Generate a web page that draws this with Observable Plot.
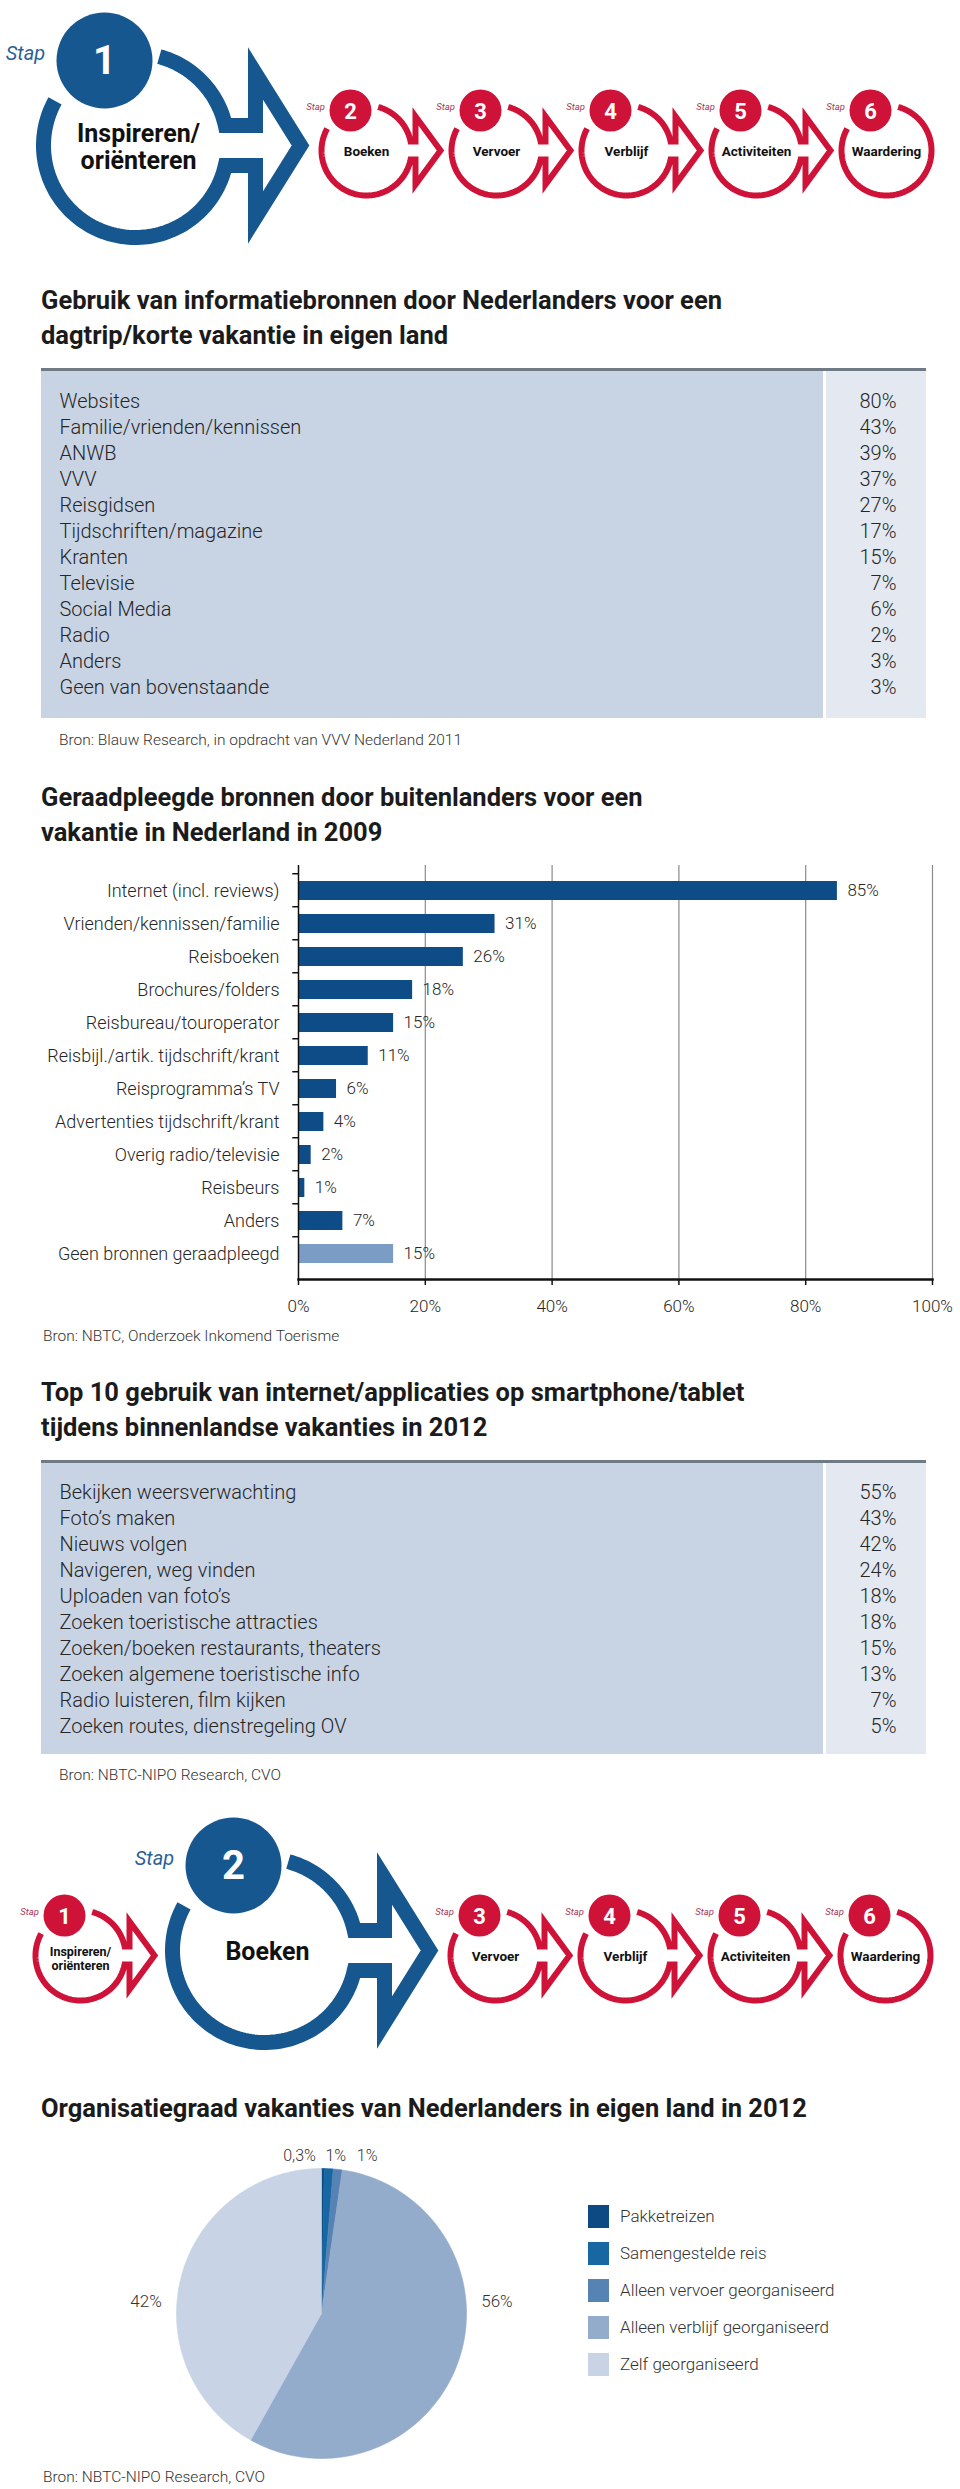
<!DOCTYPE html>
<html><head><meta charset="utf-8">
<script src="https://cdn.jsdelivr.net/npm/d3@7"></script>
<script src="https://cdn.jsdelivr.net/npm/@observablehq/plot@0.6"></script>
<style>
body{margin:0;background:#fff;}
#page{position:relative;width:960px;height:2489px;overflow:hidden;font-family:Roboto,"Noto Sans",sans-serif;color:#222;background:#fff;}
.abs{position:absolute;}
.title{left:41px;font-weight:700;font-size:25.5px;line-height:35px;color:#1b1b1b;letter-spacing:0;white-space:nowrap;}
.src{font-size:15.5px;line-height:18px;color:#333;font-weight:300;white-space:nowrap;}
.tblline{left:41px;width:885px;height:3px;background:#6f7a85;}
.pl{background:#c8d3e3;}
.pr{background:#e3e8f1;}
.legend{left:588px;font-size:17px;font-weight:300;color:#333;}
.legend .it{display:flex;align-items:center;height:37px;}
.legend .sw{width:21px;height:23px;margin-right:11px;}
</style>
</head><body>
<div id="page"></div>
<script>
// ---------- data ----------
const stepNames = ["Inspireren/\noriënteren","Boeken","Vervoer","Verblijf","Activiteiten","Waardering"];
const stepNumbers = ["1","2","3","4","5","6"];

const infoSources = ["Websites","Familie/vrienden/kennissen","ANWB","VVV","Reisgidsen","Tijdschriften/magazine","Kranten","Televisie","Social Media","Radio","Anders","Geen van bovenstaande"];
const infoShares = [80,43,39,37,27,17,15,7,6,2,3,3];

const foreignSources = ["Internet (incl. reviews)","Vrienden/kennissen/familie","Reisboeken","Brochures/folders","Reisbureau/touroperator","Reisbijl./artik. tijdschrift/krant","Reisprogramma’s TV","Advertenties tijdschrift/krant","Overig radio/televisie","Reisbeurs","Anders","Geen bronnen geraadpleegd"];
const foreignShares = [85,31,26,18,15,11,6,4,2,1,7,15];
const barTicks = [0,20,40,60,80,100];

const appUses = ["Bekijken weersverwachting","Foto’s maken","Nieuws volgen","Navigeren, weg vinden","Uploaden van foto’s","Zoeken toeristische attracties","Zoeken/boeken restaurants, theaters","Zoeken algemene toeristische info","Radio luisteren, film kijken","Zoeken routes, dienstregeling OV"];
const appShares = [55,43,42,24,18,18,15,13,7,5];

const orgTypes = ["Pakketreizen","Samengestelde reis","Alleen vervoer georganiseerd","Alleen verblijf georganiseerd","Zelf georganiseerd"];
const orgShares = [0.3,1,1,56,42];
const orgLabels = ["0,3%","1%","1%","56%","42%"];
const orgColors = ["#0d4a83","#1767a2","#5783b4","#93accb","#c8d3e5"];

// ---------- styles ----------
const RED = "#cf1238", BLUE = "#17578f", BAR = "#0e4c87", BAR_LIGHT = "#7b9cc5";
const FONT = "Roboto, 'Noto Sans', sans-serif";
const page = document.getElementById("page");
function place(el, left, top){ el.style.position="absolute"; el.style.left=left+"px"; el.style.top=top+"px"; page.appendChild(el); return el; }
function div(cls, html, left, top, w, h){ const d=document.createElement("div"); d.className="abs "+cls; d.innerHTML=html||""; d.style.left=left+"px"; d.style.top=top+"px"; if(w!=null) d.style.width=w+"px"; if(h!=null) d.style.height=h+"px"; page.appendChild(d); return d; }

// ---------- step headers ----------
const BIG = {cy:145,R:92,w:15,s:20,hb:120,h:72,tip:165,fr:48,fdx:-31,fdy:-85,num:40,stapDx:-110,stapDy:-92,stap:20,txt:25,lh:1.08,tdx:3,tdy:1.5};
const SMALL = {cy:150,R:45,w:6,s:9,hb:49,h:34,tip:74,fr:21,fdx:-16,fdy:-40,num:22,stapDx:-51,stapDy:-44,stap:9.5,txt:13.5,lh:1.15,tdx:0,tdy:3};

function ringPoints(g, cx, withArrow){
  const pts=[], deg=Math.PI/180, a0=-75*deg, a3=209*deg;
  const push=a=>pts.push({x:cx+g.R*Math.cos(a), y:g.cy+g.R*Math.sin(a)});
  if(withArrow){
    const a1=-Math.asin(g.s/g.R);
    for(let a=a0;a<a1;a+=2*deg) push(a);
    push(a1);
    pts.push({x:cx+g.hb,y:g.cy-g.s},{x:cx+g.hb,y:g.cy-g.h},{x:cx+g.tip,y:g.cy},{x:cx+g.hb,y:g.cy+g.h},{x:cx+g.hb,y:g.cy+g.s});
    for(let a=-a1;a<a3;a+=2*deg) push(a);
    push(a3);
  } else { for(let a=a0;a<a3;a+=2*deg) push(a); push(a3); }
  return pts;
}

function stepHeader(active){
  const H=250, xs=[];
  let x = active===0 ? 135 : 80;
  for(let i=0;i<stepNames.length;i++){
    if(i>0){ x += (i-1)===active ? 231 : (i===active ? 184 : 130); }
    xs.push(x);
  }
  const steps = stepNames.map((name,i)=>{
    const g = i===active ? BIG : SMALL;
    return {name, num:stepNumbers[i], g, cx:xs[i], color: i===active?BLUE:RED, big:i===active, last:i===stepNames.length-1};
  });
  const marks=[];
  for(const s of steps){
    marks.push(Plot.line(ringPoints(s.g, s.cx, !s.last), {x:"x", y:"y", stroke:s.color, strokeWidth:s.g.w, strokeLinejoin:"miter", strokeLinecap:"butt", strokeMiterlimit:4}));
    marks.push(Plot.dot([s], {x:d=>d.cx+d.g.fdx, y:d=>d.g.cy+d.g.fdy, r:s.g.fr, fill:s.color, stroke:null}));
    marks.push(Plot.text([s], {x:d=>d.cx+d.g.fdx, y:d=>d.g.cy+d.g.fdy, text:"num", fill:"white", fontWeight:700, fontSize:s.g.num, dy:1}));
    marks.push(Plot.text([s], {x:d=>d.cx+d.g.stapDx, y:d=>d.g.cy+d.g.stapDy, text:()=>"Stap", fill: s.big?"#2a5f98":"#a8345a", fontStyle:"italic", fontSize:s.g.stap}));
    const multi = s.name.includes("\n");
    marks.push(Plot.text([s], {x:d=>d.cx+d.g.tdx, y:d=>d.g.cy, text:"name", fill:"#111", fontWeight:700,
      fontSize: multi && !s.big ? 12.5 : s.g.txt, lineHeight:s.g.lh, dy: multi ? s.g.tdy : 1}));
  }
  return Plot.plot({
    width:960, height:H, margin:0,
    x:{domain:[0,960], range:[0,960], axis:null},
    y:{domain:[0,H], range:[0,H], axis:null},
    style:{fontFamily:FONT, background:"transparent"},
    marks
  });
}
place(stepHeader(0), 0, 0);
place(stepHeader(1), 0, 1805);

// ---------- tables ----------
function table(labels, values, top, bodyH){
  const n = labels.length, step=26.5, mt=13.75;
  div("tblline","",41,top-3,885,3);
  div("pl","",41,top,782,bodyH);
  div("pr","",826,top,100,bodyH);
  const rows = labels.map((l,i)=>({l, v:values[i]}));
  const p = Plot.plot({
    width:885, height:bodyH, marginLeft:0, marginRight:0, marginTop:mt, marginBottom: bodyH-mt-n*step,
    x:{axis:null}, y:{type:"point", domain:labels, padding:0.5, axis:null},
    style:{fontFamily:FONT, background:"transparent", fontWeight:300},
    marks:[
      Plot.text(rows, {y:"l", text:"l", frameAnchor:"left", dx:18, fontSize:20, fill:"#262626", textAnchor:"start"}),
      Plot.text(rows, {y:"l", text:d=>d.v+"%", frameAnchor:"right", dx:-30, fontSize:20, fill:"#262626", textAnchor:"end"})
    ]
  });
  place(p, 41, top);
}

div("title","Gebruik van informatiebronnen door Nederlanders voor een<br>dagtrip/korte vakantie in eigen land",41,283);
table(infoSources, infoShares, 371, 347);
div("src","Bron: Blauw Research, in opdracht van VVV Nederland 2011",59,731);

// ---------- bar chart ----------
div("title","Geraadpleegde bronnen door buitenlanders voor een<br>vakantie in Nederland in 2009",41,779.5);
{
  const rows = foreignSources.map((k,i)=>({k, v:foreignShares[i], last:i===foreignSources.length-1}));
  const stepB = 414/foreignSources.length;
  const p = Plot.plot({
    width:960, height:469, marginLeft:298, marginRight:28, marginTop:10, marginBottom:45,
    x:{domain:[0,100], axis:null, label:null},
    y:{domain:foreignSources, padding:0.42, axis:null, label:null},
    style:{fontFamily:FONT, background:"transparent", fontWeight:300, color:"#262626", overflow:"visible"},
    marks:[
      Plot.ruleX(barTicks.filter(t=>t>0), {stroke:"#8a8a8a", strokeWidth:1.2}),
      Plot.barX(rows.filter(d=>!d.last), {x:"v", y:"k", fill:BAR}),
      Plot.barX(rows.filter(d=>d.last), {x:"v", y:"k", fill:BAR_LIGHT}),
      Plot.text(rows, {x:"v", y:"k", text:d=>d.v+"%", dx:10, textAnchor:"start", fontSize:17, fill:"#262626"}),
      Plot.ruleX([0], {stroke:"#111", strokeWidth:1.5}),
      Plot.ruleY(foreignSources, {y:d=>d, x1:-0.9, x2:0, dy:-stepB/2, stroke:"#111", strokeWidth:1.5}),
      Plot.axisY({tickSize:0, tickPadding:19, fontSize:18, fill:"#262626", label:null}),
      Plot.axisX({ticks:barTicks, tickFormat:d=>d+"%", tickSize:6, tickPadding:14, fontSize:17, stroke:"#111", strokeWidth:1.5, fill:"#262626", label:null}),
      Plot.frame({anchor:"bottom", stroke:"#111", strokeWidth:2.5})
    ]
  });
  place(p, 0, 855);
}
div("src","Bron: NBTC, Onderzoek Inkomend Toerisme",43,1327);

// ---------- table 2 ----------
div("title","Top 10 gebruik van internet/applicaties op smartphone/tablet<br>tijdens binnenlandse vakanties in 2012",41,1374.5);
table(appUses, appShares, 1463, 291);
div("src","Bron: NBTC-NIPO Research, CVO",59,1766);

// ---------- pie ----------
div("title","Organisatiegraad vakanties van Nederlanders in eigen land in 2012",41,2090.5);
{
  const arcs = d3.pie().sort(null).value(d=>d)(orgShares);
  const marks = [];
  arcs.forEach((a,i)=>{
    const pts=[{x:0,y:0}], n=Math.max(2,Math.ceil((a.endAngle-a.startAngle)/0.02));
    for(let j=0;j<=n;j++){ const t=a.startAngle+(a.endAngle-a.startAngle)*j/n; pts.push({x:Math.sin(t), y:Math.cos(t)}); }
    pts.push({x:0,y:0});
    marks.push(Plot.line(pts, {x:"x", y:"y", fill:orgColors[i], stroke:orgColors[i], strokeWidth:0.6}));
  });
  const lab = arcs.map((a,i)=>{
    const mid=(a.startAngle+a.endAngle)/2, big=orgShares[i]>=5;
    return {t:orgLabels[i], i, big, x: big ? Math.sign(Math.sin(mid))*1.21 : Math.sin(mid), y: big ? 0.083 : 1.09};
  });
  const smallAnchors=["end","middle","start"], smallDx=[-7,7,19];
  lab.filter(d=>!d.big).forEach((d,k)=>{
    marks.push(Plot.text([d], {x:"x", y:"y", text:"t", textAnchor:smallAnchors[k], dx:smallDx[k], fontSize:16, fill:"#333"}));
  });
  marks.push(Plot.text(lab.filter(d=>d.big), {x:"x", y:"y", text:"t", fontSize:17, fill:"#333"}));
  const k = 145, halfW = 210, top = 185, bottom = 165;
  const p = Plot.plot({
    width:2*halfW, height:top+bottom, margin:0,
    x:{domain:[-halfW/k,halfW/k], axis:null},
    y:{domain:[-bottom/k,top/k], axis:null},
    style:{fontFamily:FONT, background:"transparent", fontWeight:300, overflow:"visible"},
    marks
  });
  place(p, 321-halfW, 2313-top);

  const lg = div("legend","",588,2197.5);
  lg.innerHTML = orgTypes.map((t,i)=>`<div class="it"><div class="sw" style="background:${orgColors[i]}"></div><span>${t}</span></div>`).join("");
}
div("src","Bron: NBTC-NIPO Research, CVO",43,2468);
</script>
</body></html>
